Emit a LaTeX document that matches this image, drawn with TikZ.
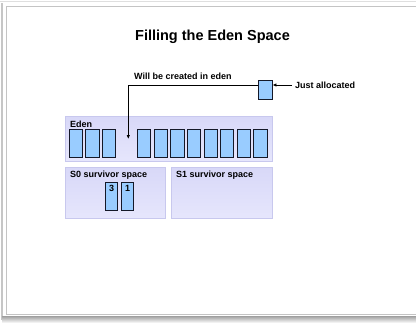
\documentclass[tikz,border=0pt]{standalone}
\usepackage{fontspec}
\setmainfont{Liberation Sans}
\usetikzlibrary{arrows.meta}
\definecolor{slideline}{RGB}{196,196,196}
\definecolor{areatop}{RGB}{216,216,248}
\definecolor{areabottom}{RGB}{230,230,252}
\definecolor{areaedge}{RGB}{200,200,238}
\definecolor{objfill}{RGB}{153,204,255}
\definecolor{objedge}{RGB}{20,24,40}
\tikzset{
  area/.style={draw=areaedge, line width=0.8pt, top color=areatop, bottom color=areabottom,
    inner sep=0pt, anchor=north west},
  areatitle/.style={font=\bfseries\fontsize{9}{10}\selectfont, anchor=west, inner sep=0pt},
  obj/.style={draw=objedge, line width=0.9pt, fill=objfill, minimum width=13.3pt, minimum height=28pt, inner sep=0pt},
  smallobj/.style={obj, minimum width=12pt, minimum height=28.5pt},
  caption/.style={font=\bfseries\fontsize{9}{10}\selectfont, inner sep=0pt},
  pointer/.style={line width=0.9pt, -{Latex[length=4pt,width=3.5pt]}}
}
\begin{document}
\begin{tikzpicture}[x=1pt,y=-1pt]
  \useasboundingbox (0,0) rectangle (416,325);
  % slide background, frame and shadow
  \fill[white] (0,0) rectangle (416,325);
  \draw[gray!25, line width=0.6pt] (0,1.5) -- (416,1.5);
  \fill[gray!45] (1.2,3) rectangle (3,320);
  \fill[top color=gray!70, bottom color=white] (2,316.5) rectangle (416,323);
  \draw[slideline, line width=0.9pt] (417,6) -- (6.5,6) -- (6.5,314) -- (417,314);

  % title
  \node[font=\bfseries\fontsize{14.5}{16}\selectfont, inner sep=0pt] (title) at (212.5,37) {Filling the Eden Space};

  % heap areas
  \node[area, minimum width=207pt, minimum height=45pt] (eden) at (65,116) {};
  \node[area, minimum width=100pt, minimum height=51pt] (s0) at (65,167) {};
  \node[area, minimum width=101pt, minimum height=51pt] (s1) at (171,167) {};
  \node[areatitle] (edenlbl) at (70,124.5) {Eden};
  \node[areatitle] (s0lbl) at (70,175.5) {S0 survivor space};
  \node[areatitle] (s1lbl) at (176,175.5) {S1 survivor space};

  % objects already in eden
  \foreach \i/\x in {1/76,2/92.5,3/109,4/144.2,5/160.8,6/177.4,7/194,8/210.6,9/227.2,10/243.8,11/260.4}
    \node[obj] (e\i) at (\x,143.3) {};

  % objects in S0
  \node[smallobj, label={[caption, anchor=north, yshift=-3.5pt]north:3}] (sa) at (111.7,196.3) {};
  \node[smallobj, label={[caption, anchor=north, yshift=-3.5pt]north:1}] (sb) at (127.7,196.3) {};

  % newly allocated object
  \node[obj, minimum width=14pt, minimum height=19pt] (new) at (265,89.5) {};
  \node[caption, anchor=west] (justlbl) at (295,85) {Just allocated};
  \node[caption, anchor=west] (willlbl) at (134,76) {Will be created in eden};

  \coordinate (newin) at ([yshift=4.5pt]new.west);
  \coordinate (newout) at ([yshift=4.5pt]new.east);
  \coordinate (bend) at (128.3,85);
  \coordinate (slot) at (128.3,139);
  \coordinate (justtail) at ([xshift=-3pt]justlbl.west);
  \draw[pointer] (justtail) -- (newout);
  \draw[pointer] (newin) -- (bend) -- (slot);
\end{tikzpicture}
\end{document}
